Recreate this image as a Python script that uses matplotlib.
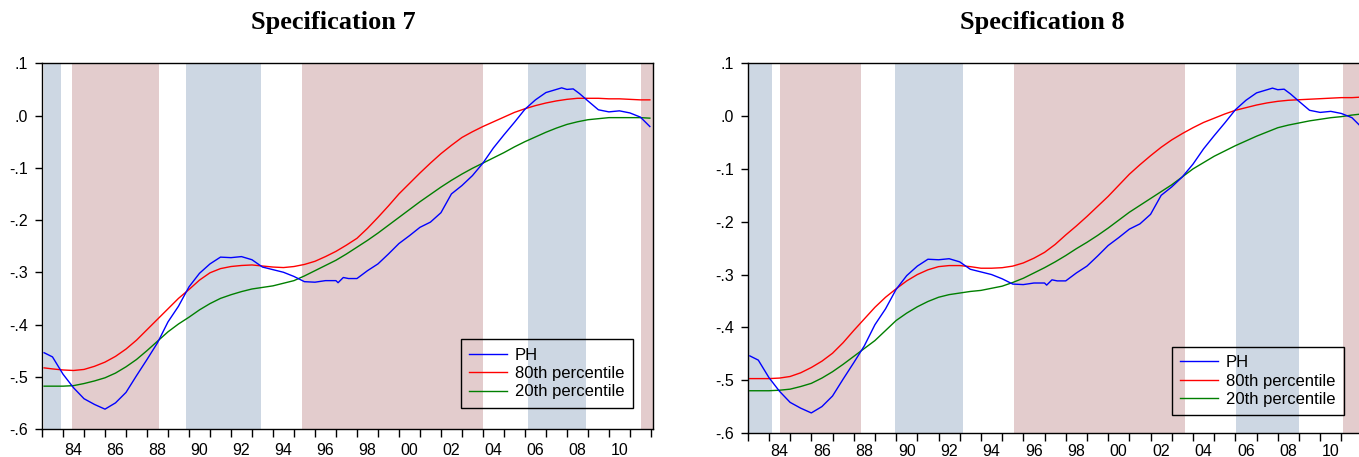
import numpy as np
import matplotlib
matplotlib.use("Agg")
import matplotlib.pyplot as plt

# house price series (same in both panels)
ph_years = [1983.1, 1983.5, 1984.0, 1984.5, 1985.0, 1985.5, 1986.0, 1986.5, 1987.0, 1987.5,
            1988.0, 1988.5, 1989.0, 1989.5, 1990.0, 1990.5, 1991.0, 1991.5, 1992.0, 1992.5,
            1993.0, 1993.5, 1994.0, 1994.5, 1995.0, 1995.5, 1996.0, 1996.5, 1997.0, 1997.1,
            1997.35, 1997.6, 1998.0, 1998.5, 1999.0, 1999.5, 2000.0, 2000.5, 2001.0, 2001.5,
            2002.0, 2002.5, 2003.0, 2003.5, 2004.0, 2004.5, 2005.0, 2005.5, 2006.0, 2006.5,
            2007.0, 2007.5, 2007.75, 2008.0, 2008.3, 2008.6, 2009.0, 2009.5, 2010.0, 2010.5,
            2011.0, 2011.5, 2011.95]
ph = [-0.454, -0.462, -0.495, -0.521, -0.542, -0.553, -0.562, -0.550, -0.530, -0.498,
      -0.467, -0.435, -0.395, -0.365, -0.328, -0.302, -0.284, -0.271, -0.272, -0.270,
      -0.276, -0.290, -0.295, -0.300, -0.308, -0.318, -0.319, -0.316, -0.316, -0.320,
      -0.310, -0.312, -0.312, -0.297, -0.284, -0.265, -0.245, -0.230, -0.214, -0.204,
      -0.186, -0.150, -0.134, -0.115, -0.091, -0.062, -0.037, -0.013, 0.012, 0.030,
      0.044, 0.050, 0.053, 0.050, 0.051, 0.042, 0.028, 0.011, 0.007, 0.009,
      0.005, -0.003, -0.021]

# percentile bands, read every half year
pct_years = [1983.1] + list(np.arange(1983.5, 2011.75, 0.5)) + [2011.95]

p80_spec7 = [-0.483, -0.485,
             -0.487, -0.488, -0.486, -0.480, -0.472, -0.461, -0.447, -0.430, -0.410, -0.390,
             -0.370, -0.350, -0.333, -0.315, -0.301, -0.293, -0.289, -0.287, -0.286, -0.288,
             -0.290, -0.291, -0.289, -0.285, -0.279, -0.270, -0.260, -0.248, -0.235, -0.216,
             -0.195, -0.173, -0.150, -0.130, -0.110, -0.091, -0.073, -0.057, -0.042, -0.031,
             -0.021, -0.012, -0.003, 0.006, 0.013, 0.019, 0.024, 0.028, 0.031, 0.033,
             0.033, 0.033, 0.032, 0.032, 0.031, 0.030,
             0.030]
p20_spec7 = [-0.518, -0.518,
             -0.518, -0.517, -0.513, -0.508, -0.502, -0.493, -0.481, -0.467, -0.450, -0.432,
             -0.414, -0.399, -0.386, -0.372, -0.360, -0.350, -0.343, -0.337, -0.332, -0.329,
             -0.326, -0.321, -0.316, -0.307, -0.297, -0.287, -0.277, -0.265, -0.252, -0.239,
             -0.225, -0.210, -0.195, -0.180, -0.165, -0.151, -0.137, -0.124, -0.112, -0.101,
             -0.091, -0.081, -0.071, -0.060, -0.050, -0.041, -0.032, -0.024, -0.017, -0.012,
             -0.008, -0.006, -0.004, -0.004, -0.004, -0.004,
             -0.005]

p80_spec8 = [-0.497, -0.497,
             -0.497, -0.496, -0.493, -0.486, -0.476, -0.464, -0.449, -0.429, -0.406, -0.384,
             -0.362, -0.343, -0.327, -0.312, -0.300, -0.291, -0.285, -0.283, -0.283, -0.285,
             -0.288, -0.288, -0.287, -0.284, -0.278, -0.269, -0.258, -0.243, -0.225, -0.208,
             -0.190, -0.171, -0.152, -0.131, -0.110, -0.092, -0.075, -0.059, -0.045, -0.033,
             -0.022, -0.012, -0.004, 0.004, 0.011, 0.016, 0.021, 0.025, 0.028, 0.030,
             0.031, 0.032, 0.033, 0.034, 0.035, 0.035,
             0.036]
p20_spec8 = [-0.520, -0.520,
             -0.520, -0.519, -0.517, -0.512, -0.506, -0.496, -0.484, -0.470, -0.455, -0.440,
             -0.425, -0.406, -0.387, -0.373, -0.361, -0.351, -0.343, -0.338, -0.335, -0.332,
             -0.330, -0.326, -0.322, -0.315, -0.307, -0.297, -0.287, -0.276, -0.264, -0.251,
             -0.239, -0.226, -0.212, -0.197, -0.182, -0.169, -0.156, -0.143, -0.130, -0.115,
             -0.100, -0.088, -0.076, -0.066, -0.056, -0.047, -0.038, -0.030, -0.022, -0.017,
             -0.013, -0.009, -0.006, -0.003, -0.001, 0.002,
             0.004]

# regime shading (start, end) in years
blue_spec7 = [(1983.1, 1983.9), (1989.87, 1993.43), (2006.16, 2008.9)]
red_spec7 = [(1984.41, 1988.57), (1995.4, 2004.0), (2011.54, 2012.1)]
blue_spec8 = [(1983.06, 1984.14), (1989.94, 1993.15), (2006.04, 2009.0)]
red_spec8 = [(1984.53, 1988.35), (1995.56, 2003.62), (2011.1, 2012.1)]

label_years = list(range(1984, 2011, 2))
xtick_labels = ["%02d" % (y % 100) for y in label_years]
ytick_vals = [-0.6, -0.5, -0.4, -0.3, -0.2, -0.1, 0.0, 0.1]
ytick_labels = ["-.6", "-.5", "-.4", "-.3", "-.2", "-.1", ".0", ".1"]

W, H = 1359, 457
fig = plt.figure(figsize=(W / 100, H / 100), dpi=100)
plt.rcParams["font.family"] = ["Liberation Sans", "DejaVu Sans"]


def draw_panel(ax, p80, p20, blue, red, title, title_x, leg_anchor, xpad):
    for a, b in blue:
        ax.axvspan(a, b, color="#cdd7e3", lw=0, zorder=0)
    for a, b in red:
        ax.axvspan(a, b, color="#e3cccd", lw=0, zorder=0)

    ax.plot(ph_years, ph, color="#0000ff", lw=1.0, label="PH", zorder=3)
    ax.plot(pct_years, p80, color="#ff0000", lw=1.0, label="80th percentile", zorder=2)
    ax.plot(pct_years, p20, color="#007f00", lw=1.0, label="20th percentile", zorder=2)

    ax.set_xlim(1983.0, 2012.1)
    ax.set_ylim(-0.6, 0.1)

    # year ticks, labels centred inside the year
    ax.set_xticks(range(1983, 2013))
    ax.set_xticklabels([])
    ax.set_xticks([y + 0.5 for y in label_years], minor=True)
    ax.set_xticklabels(xtick_labels, minor=True)
    ax.tick_params(axis="x", which="major", direction="out", length=6, width=1)
    ax.tick_params(axis="x", which="minor", length=0, pad=xpad, labelsize=11.5)

    ax.set_yticks(ytick_vals)
    ax.set_yticklabels(ytick_labels)
    ax.tick_params(axis="y", direction="out", length=5, width=1, pad=5, labelsize=11.5)

    for s in ax.spines.values():
        s.set_linewidth(1.0)
        s.set_color("black")

    leg = ax.legend(loc="upper left", bbox_to_anchor=leg_anchor, borderaxespad=0,
                    fontsize=12, frameon=True, fancybox=False, framealpha=1,
                    facecolor="none", edgecolor="black", handlelength=2.3,
                    handletextpad=0.45, labelspacing=0.2, borderpad=0.5)
    leg.get_frame().set_linewidth(1.0)

    fig.text(title_x / W, 1 - 22 / H, title, ha="center", va="center",
             fontsize=19, fontweight="bold", family="Liberation Serif")


ax1 = fig.add_axes([42 / W, 28 / H, 611 / W, 365.7 / H])
draw_panel(ax1, p80_spec7, p20_spec7, blue_spec7, red_spec7,
           "Specification 7", 333, (0.685, 0.245), 10)

ax2 = fig.add_axes([747.7 / W, 24 / H, 617 / W, 369.7 / H])
draw_panel(ax2, p80_spec8, p20_spec8, blue_spec8, red_spec8,
           "Specification 8", 1042, (0.687, 0.233), 8)

fig.savefig("out.png", dpi=100)
